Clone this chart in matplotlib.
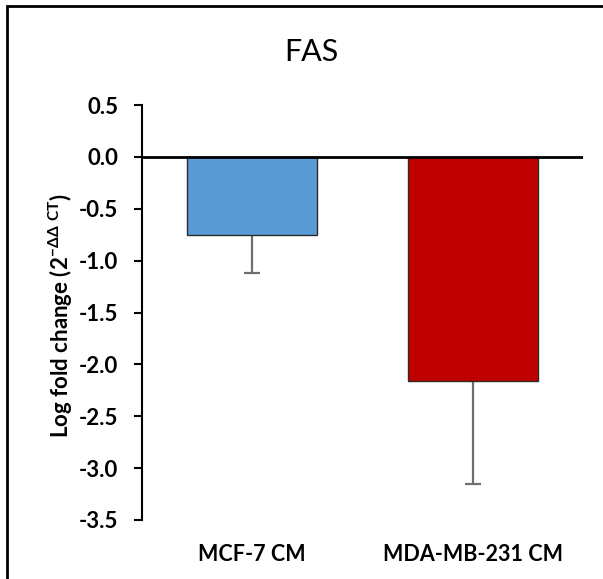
import numpy as np
import matplotlib.pyplot as plt
from matplotlib.patches import Rectangle

# FAS expression, log fold change vs control
groups = ['MCF-7 CM', 'MDA-MB-231 CM']
fold_change = [-0.75, -2.16]
err_down = [0.37, 0.99]
bar_colors = ['#5B9BD5', '#C00000']
yticks = [0.5, 0.0, -0.5, -1.0, -1.5, -2.0, -2.5, -3.0, -3.5]

plt.rcParams['font.family'] = ['Lato', 'DejaVu Sans']
plt.rcParams['mathtext.fontset'] = 'custom'
plt.rcParams['mathtext.rm'] = 'Lato'
plt.rcParams['mathtext.bf'] = 'Lato:bold'

fig = plt.figure(figsize=(6.03, 5.79), dpi=100)
ax = fig.add_axes([142 / 603, 1 - 520 / 579, 441 / 603, 415 / 579])

x = np.arange(len(groups))
ax.bar(x, fold_change, width=0.59, color=bar_colors, edgecolor='#2b2b2b',
       linewidth=1.0, zorder=2)

# only the downward half of the error bar
_, caps, _ = ax.errorbar(x, fold_change, yerr=[err_down, np.zeros(len(x))],
                         fmt='none', ecolor='#6f6f6f', elinewidth=1.6,
                         capsize=6, capthick=1.6, zorder=1)
caps[1].set_visible(False)

ax.axhline(0, color='black', linewidth=2, zorder=3)

ax.set_xlim(-0.5, 1.5)
ax.set_ylim(-3.5, 0.5)
ax.set_yticks(yticks)
ax.set_yticklabels([f'{t:.1f}' for t in yticks], fontsize=16, fontweight='bold')
ax.set_xticks(x)
ax.set_xticklabels(groups, fontsize=15.5, fontweight='bold')

for side in ['top', 'right', 'bottom']:
    ax.spines[side].set_visible(False)
ax.spines['left'].set_linewidth(1.5)
ax.tick_params(axis='y', direction='out', length=6, width=1.5, pad=11)
ax.tick_params(axis='x', length=0, pad=17)

fig.text(61 / 603, 1 - 316 / 579,
         r'Log fold change (2$^{\mathbf{-ΔΔ\ CT}}$)',
         rotation=90, ha='center', va='center', fontsize=16, fontweight='bold')

fig.text(311 / 603, 1 - 52 / 579, 'FAS', fontsize=22, ha='center', va='center')

# chart border
fig.patches.append(Rectangle((7 / 603, -0.1), 1.2, 1.1 - 6 / 579,
                             transform=fig.transFigure, fill=False,
                             edgecolor='black', linewidth=2))

fig.savefig('out.png', dpi=100)
